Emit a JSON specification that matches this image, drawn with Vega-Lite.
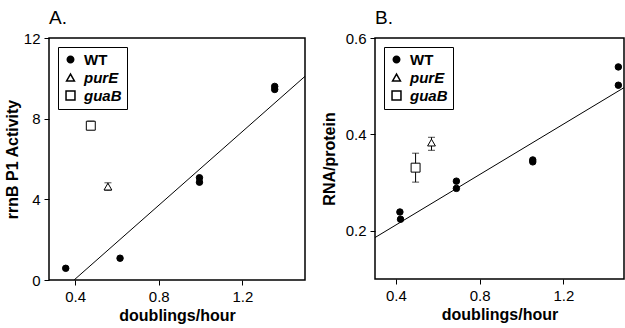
{
  "$schema": "https://vega.github.io/schema/vega-lite/v6.json",
  "padding": {"left": 3, "top": 8, "right": 0, "bottom": 1},
  "spacing": 14,
  "config": {
    "font": "Liberation Sans",
    "view": {"stroke": "black", "strokeWidth": 1.5},
    "title": {"fontSize": 19, "fontWeight": "normal", "anchor": "start", "frame": "group", "color": "black", "offset": 3},
    "axis": {
      "domain": false, "grid": false, "ticks": true, "tickColor": "black", "tickSize": 5, "tickWidth": 1,
      "labelFontSize": 15, "labelColor": "black", "labelPadding": 4,
      "titleFontSize": 16, "titleFontWeight": "bold", "titleColor": "black"
    },
    "legend": {
      "orient": "top-left", "offset": 9, "strokeColor": "black", "padding": 5, "fillColor": "white",
      "labelFontSize": 15, "labelFontWeight": "bold", "labelColor": "black", "rowPadding": 2,
      "labelOffset": 6
    }
  },
  "datasets": {
    "points": [
      {"panel": "A", "strain": "WT", "rate": 0.355, "value": 0.58},
      {"panel": "A", "strain": "WT", "rate": 0.615, "value": 1.08},
      {"panel": "A", "strain": "WT", "rate": 0.995, "value": 4.85},
      {"panel": "A", "strain": "WT", "rate": 0.995, "value": 5.07},
      {"panel": "A", "strain": "WT", "rate": 1.355, "value": 9.45},
      {"panel": "A", "strain": "WT", "rate": 1.355, "value": 9.6},
      {"panel": "A", "strain": "guaB", "rate": 0.475, "value": 7.65, "lo": 7.45, "hi": 7.88},
      {"panel": "A", "strain": "purE", "rate": 0.557, "value": 4.63, "lo": 4.45, "hi": 4.82},
      {"panel": "B", "strain": "WT", "rate": 0.419, "value": 0.239},
      {"panel": "B", "strain": "WT", "rate": 0.422, "value": 0.224},
      {"panel": "B", "strain": "WT", "rate": 0.689, "value": 0.303},
      {"panel": "B", "strain": "WT", "rate": 0.689, "value": 0.288},
      {"panel": "B", "strain": "WT", "rate": 1.054, "value": 0.347},
      {"panel": "B", "strain": "WT", "rate": 1.054, "value": 0.343},
      {"panel": "B", "strain": "WT", "rate": 1.463, "value": 0.54},
      {"panel": "B", "strain": "WT", "rate": 1.463, "value": 0.502},
      {"panel": "B", "strain": "guaB", "rate": 0.494, "value": 0.331, "lo": 0.301, "hi": 0.361},
      {"panel": "B", "strain": "purE", "rate": 0.57, "value": 0.383, "lo": 0.367, "hi": 0.394}
    ],
    "fits": [
      {"panel": "A", "rate": 0.395, "value": 0},
      {"panel": "A", "rate": 1.5, "value": 10.1},
      {"panel": "B", "rate": 0.3, "value": 0.186},
      {"panel": "B", "rate": 1.49, "value": 0.497}
    ]
  },
  "resolve": {
    "scale": {"shape": "independent", "fill": "independent", "size": "independent"},
    "legend": {"shape": "independent", "fill": "independent", "size": "independent"}
  },
  "hconcat": [
    {
      "width": 256, "height": 242,
      "title": {"text": "\u00a0\u00a0A."},
      "layer": [
        {
          "data": {"name": "fits"},
          "transform": [{"filter": "datum.panel === 'A'"}],
          "mark": {"type": "line", "color": "black", "strokeWidth": 1, "clip": true},
          "encoding": {
            "x": {"field": "rate", "type": "quantitative", "title": "doublings/hour", "scale": {"domain": [0.275, 1.5], "nice": false, "zero": false},
                  "axis": {"values": [0.4, 0.8, 1.2], "format": ".1f", "titlePadding": 3}},
            "y": {"field": "value", "type": "quantitative", "title": "rrnB P1 Activity", "scale": {"domain": [0, 12], "nice": false},
                  "axis": {"values": [0, 4, 8, 12], "format": "d", "titlePadding": 3}}
          }
        },
        {
          "data": {"name": "points"},
          "transform": [{"filter": "datum.panel === 'A' && isValid(datum.lo)"}],
          "mark": {"type": "errorbar", "ticks": {"size": 7, "color": "black"}, "rule": {"color": "black", "strokeWidth": 1}},
          "encoding": {
            "x": {"field": "rate", "type": "quantitative", "title": "doublings/hour"},
            "y": {"field": "lo", "type": "quantitative", "title": "rrnB P1 Activity"},
            "y2": {"field": "hi"}
          }
        },
        {
          "data": {"name": "points"},
          "transform": [{"filter": "datum.panel === 'A'"}],
          "mark": {"type": "point", "opacity": 1, "stroke": "black", "strokeWidth": 1},
          "encoding": {
            "x": {"field": "rate", "type": "quantitative", "title": "doublings/hour"},
            "y": {"field": "value", "type": "quantitative", "title": "rrnB P1 Activity"},
            "size": {"field": "strain", "type": "nominal", "title": null,
                     "scale": {"domain": ["WT", "purE", "guaB"], "range": [42, 80, 55]},
                     "legend": {"labelFontStyle": {"expr": "datum.value === 'WT' ? 'normal' : 'italic'"},
                                "encode": {"symbols": {"update": {"stroke": {"value": "black"}, "strokeWidth": {"value": 1}}}}}},
            "shape": {"field": "strain", "type": "nominal", "title": null,
                      "scale": {"domain": ["WT", "purE", "guaB"], "range": ["circle", "triangle-up", "square"]},
                      "legend": {"labelFontStyle": {"expr": "datum.value === 'WT' ? 'normal' : 'italic'"},
                                 "encode": {"symbols": {"update": {"stroke": {"value": "black"}, "strokeWidth": {"value": 1}}}}}},
            "fill": {"field": "strain", "type": "nominal", "title": null,
                     "scale": {"domain": ["WT", "purE", "guaB"], "range": ["black", "white", "white"]},
                     "legend": {"labelFontStyle": {"expr": "datum.value === 'WT' ? 'normal' : 'italic'"},
                                "encode": {"symbols": {"update": {"stroke": {"value": "black"}, "strokeWidth": {"value": 1}}}}}}
          }
        }
      ]
    },
    {
      "width": 249, "height": 241,
      "title": {"text": "B."},
      "layer": [
        {
          "data": {"name": "fits"},
          "transform": [{"filter": "datum.panel === 'B'"}],
          "mark": {"type": "line", "color": "black", "strokeWidth": 1, "clip": true},
          "encoding": {
            "x": {"field": "rate", "type": "quantitative", "title": "doublings/hour", "scale": {"domain": [0.3, 1.49], "nice": false, "zero": false},
                  "axis": {"values": [0.4, 0.8, 1.2], "format": ".1f", "titlePadding": 3}},
            "y": {"field": "value", "type": "quantitative", "title": "RNA/protein", "scale": {"domain": [0.1, 0.6], "nice": false, "zero": false},
                  "axis": {"values": [0.2, 0.4, 0.6], "format": ".1f", "titlePadding": 8}}
          }
        },
        {
          "data": {"name": "points"},
          "transform": [{"filter": "datum.panel === 'B' && isValid(datum.lo)"}],
          "mark": {"type": "errorbar", "ticks": {"size": 7, "color": "black"}, "rule": {"color": "black", "strokeWidth": 1}},
          "encoding": {
            "x": {"field": "rate", "type": "quantitative", "title": "doublings/hour"},
            "y": {"field": "lo", "type": "quantitative", "title": "RNA/protein"},
            "y2": {"field": "hi"}
          }
        },
        {
          "data": {"name": "points"},
          "transform": [{"filter": "datum.panel === 'B'"}],
          "mark": {"type": "point", "opacity": 1, "stroke": "black", "strokeWidth": 1},
          "encoding": {
            "x": {"field": "rate", "type": "quantitative", "title": "doublings/hour"},
            "y": {"field": "value", "type": "quantitative", "title": "RNA/protein"},
            "size": {"field": "strain", "type": "nominal", "title": null,
                     "scale": {"domain": ["WT", "purE", "guaB"], "range": [42, 80, 55]},
                     "legend": {"labelFontStyle": {"expr": "datum.value === 'WT' ? 'normal' : 'italic'"},
                                "encode": {"symbols": {"update": {"stroke": {"value": "black"}, "strokeWidth": {"value": 1}}}}}},
            "shape": {"field": "strain", "type": "nominal", "title": null,
                      "scale": {"domain": ["WT", "purE", "guaB"], "range": ["circle", "triangle-up", "square"]},
                      "legend": {"labelFontStyle": {"expr": "datum.value === 'WT' ? 'normal' : 'italic'"},
                                 "encode": {"symbols": {"update": {"stroke": {"value": "black"}, "strokeWidth": {"value": 1}}}}}},
            "fill": {"field": "strain", "type": "nominal", "title": null,
                     "scale": {"domain": ["WT", "purE", "guaB"], "range": ["black", "white", "white"]},
                     "legend": {"labelFontStyle": {"expr": "datum.value === 'WT' ? 'normal' : 'italic'"},
                                "encode": {"symbols": {"update": {"stroke": {"value": "black"}, "strokeWidth": {"value": 1}}}}}}
          }
        }
      ]
    }
  ]
}
